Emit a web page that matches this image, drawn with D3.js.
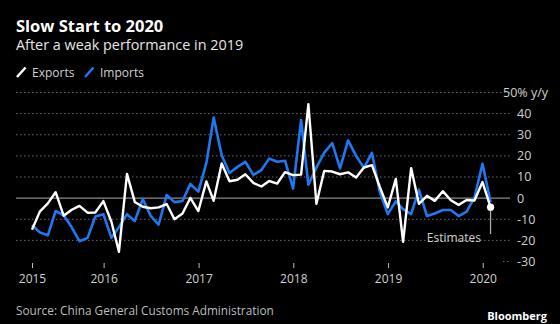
<!DOCTYPE html>
<html>
<head>
<meta charset="utf-8">
<script src="https://cdn.jsdelivr.net/npm/d3@7"></script>
<style>
  body { margin: 0; background: #000; }
  svg { display: block; font-family: "Open Sans", sans-serif; }
</style>
</head>
<body>
<svg id="chart" width="560" height="324"></svg>
<script>
// monthly y/y change, %, March 2015 .. December 2019, then the estimate
const startMonth = "2015-03";
const exportsData = [
  -15.0, -6.4, -2.5, 2.8, -8.3, -5.5, -3.7, -6.9, -6.8, -1.4,
  -11.2, -25.4, 11.5, -1.8, -4.1, -4.8, -4.4, -2.8, -10.0, -7.3, 0.1, -6.1,
  7.9, -1.3, 16.4, 8.0, 8.7, 11.3, 7.2, 5.5, 8.1, 6.9, 12.3, 10.9,
  11.1, 44.5, -2.7, 12.9, 12.6, 11.3, 12.2, 9.8, 14.5, 15.6, 5.4, -4.4,
  9.1, -20.7, 14.2, -2.7, 1.1, -1.3, 3.3, -1.0, -3.2, -0.9, -1.1, 7.6
];
const importsData = [
  -12.7, -16.2, -17.6, -6.1, -8.1, -13.8, -20.4, -18.8, -8.7, -7.6,
  -18.8, -13.8, -7.6, -10.9, -0.4, -8.4, -12.5, 1.5, -1.9, -1.4, 6.7, 3.1,
  16.7, 38.1, 20.3, 11.9, 14.8, 17.2, 11.0, 13.3, 18.7, 17.2, 17.7, 4.5,
  36.9, 6.3, 14.4, 21.5, 26.0, 14.1, 27.3, 20.0, 14.3, 21.4, 3.0, -7.6,
  -1.5, -5.2, -7.6, 4.0, -8.5, -7.3, -5.6, -5.6, -8.5, -6.4, 0.3, 16.3
];
const exportsEstimate = -4.3;
const importsEstimate = -1.8;
const yTicks = [-20, -10, 0, 10, 20, 30, 40];
const yearTicks = ["2015", "2016", "2017", "2018", "2019", "2020"];

const svg = d3.select("#chart");
const blue = "#1f78f0";

// data are stamped at month end
const parseMonth = d3.timeParse("%Y-%m");
const monthEnd = (i) => d3.timeDay.offset(d3.timeMonth.offset(parseMonth(startMonth), i + 1), -1);

const exportsSeries = exportsData.map((v, i) => ({date: monthEnd(i), value: v}));
const importsSeries = importsData.map((v, i) => ({date: monthEnd(i), value: v}));
const estDate = monthEnd(exportsData.length);
exportsSeries.push({date: estDate, value: exportsEstimate});
importsSeries.push({date: estDate, value: importsEstimate});

const x = d3.scaleTime()
  .domain([monthEnd(0), monthEnd(exportsData.length - 1)])
  .range([32, 482.5]);
const y = d3.scaleLinear().domain([-30, 50]).range([261.5, 92.5]);

// title block
svg.append("text").attr("x", 16).attr("y", 32)
  .attr("fill", "#fff").style("font-size", "16.5px").style("font-weight", "bold")
  .text("Slow Start to 2020");
svg.append("text").attr("x", 16).attr("y", 50)
  .attr("fill", "#e6e6e6").style("font-size", "14.4px")
  .text("After a weak performance in 2019");

// legend
const legend = [{name: "Exports", color: "#fff", x: 17}, {name: "Imports", color: blue, x: 85}];
legend.forEach(function(d) {
  svg.append("line")
    .attr("x1", d.x).attr("y1", 77).attr("x2", d.x + 8.5).attr("y2", 67.5)
    .attr("stroke", d.color).attr("stroke-width", 2.5);
  svg.append("text").attr("x", d.x + 15).attr("y", 72.5).attr("dy", "0.35em")
    .attr("fill", "#d0d0d0").style("font-size", "12px")
    .text(d.name);
});

// grid
const grid = svg.append("g");
grid.selectAll(".grid").data(yTicks.concat([50])).enter().append("line")
  .attr("x1", 16).attr("x2", 510)
  .attr("y1", d => y(d)).attr("y2", d => y(d))
  .attr("stroke", d => d === 0 ? "#8a8a8a" : "#6a6a6a")
  .attr("stroke-width", d => d === 0 ? 1.3 : 1)
  .attr("stroke-dasharray", d => d === 0 ? null : "1.5,2.5");
grid.append("line")
  .attr("x1", 503).attr("x2", 510).attr("y1", y(-30)).attr("y2", y(-30))
  .attr("stroke", "#6a6a6a").attr("stroke-dasharray", "1.5,2.5");

// y labels
svg.selectAll(".ylab").data(yTicks.concat([-30])).enter().append("text")
  .attr("x", 517).attr("y", d => y(d)).attr("dy", "0.35em")
  .attr("fill", "#d0d0d0").style("font-size", "12.5px")
  .text(d => d);
svg.append("text").attr("x", 548).attr("y", y(50)).attr("dy", "0.35em")
  .attr("text-anchor", "end")
  .attr("fill", "#d0d0d0").style("font-size", "12.5px")
  .text("50% y/y");

// x axis: first tick sits on the first observation
const tickDates = yearTicks.map((yr, i) => i === 0 ? monthEnd(0) : new Date(+yr, 0, 1));
const xAxis = svg.append("g").attr("transform", "translate(0,263)")
  .call(d3.axisBottom(x).tickValues(tickDates).tickSize(5).tickPadding(6)
    .tickFormat((d, i) => yearTicks[i]));
xAxis.select(".domain").remove();
xAxis.selectAll(".tick line").attr("stroke", "#bbb");
xAxis.selectAll(".tick text").attr("fill", "#d0d0d0")
  .style("font-size", "12px").style("font-family", "Open Sans, sans-serif");

// lines
const line = d3.line().x(d => x(d.date)).y(d => y(d.value));
svg.append("path").datum(importsSeries)
  .attr("d", line).attr("fill", "none")
  .attr("stroke", blue).attr("stroke-width", 2.6).attr("stroke-linejoin", "round");
svg.append("path").datum(exportsSeries)
  .attr("d", line).attr("fill", "none")
  .attr("stroke", "#fff").attr("stroke-width", 2.4).attr("stroke-linejoin", "round");

// estimate annotation
const est = exportsSeries[exportsSeries.length - 1];
svg.append("line")
  .attr("x1", x(est.date)).attr("x2", x(est.date))
  .attr("y1", y(est.value)).attr("y2", y(-17))
  .attr("stroke", "#aaa").attr("stroke-width", 1.3);
svg.append("circle")
  .attr("cx", x(est.date)).attr("cy", y(est.value)).attr("r", 3.6)
  .attr("fill", "#fff");
svg.append("text")
  .attr("x", 481).attr("y", 241.5).attr("text-anchor", "end")
  .attr("fill", "#d0d0d0").style("font-size", "12px")
  .text("Estimates");

// footer
svg.append("text").attr("x", 16).attr("y", 311).attr("dy", "0.35em")
  .attr("fill", "#bdbdbd").style("font-size", "11.8px")
  .text("Source: China General Customs Administration");
svg.append("text").attr("x", 547).attr("y", 316).attr("dy", "0.35em")
  .attr("text-anchor", "end")
  .attr("fill", "#fff").style("font-size", "11px").style("font-weight", "bold")
  .text("Bloomberg");
</script>
</body>
</html>
